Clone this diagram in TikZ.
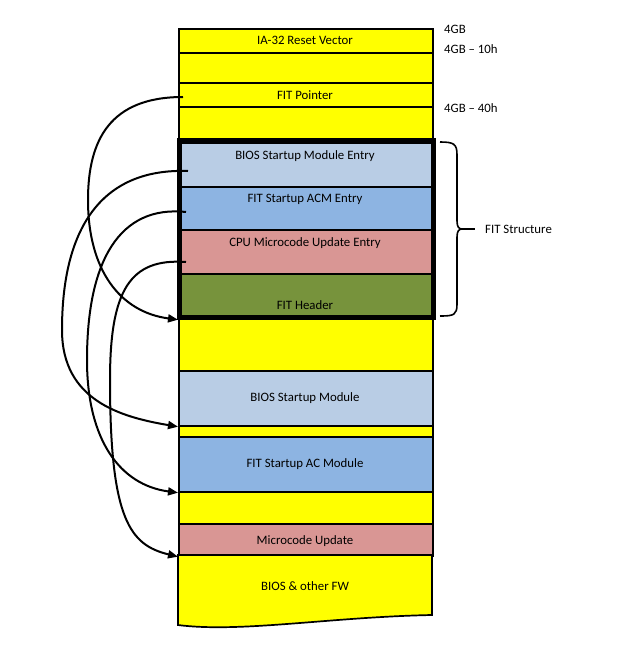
\documentclass[tikz,border=0pt]{standalone}
\usepackage{fontspec}
\setmainfont{Carlito}
\usetikzlibrary{arrows.meta}
\definecolor{cyel}{HTML}{FFFF00}
\definecolor{cltblue}{HTML}{B9CDE5}
\definecolor{cmidblue}{HTML}{8DB4E2}
\definecolor{cpink}{HTML}{D99694}
\definecolor{colive}{HTML}{77933C}
\begin{document}
\begin{tikzpicture}[x=1pt,y=-1pt,
  font=\fontsize{12.8}{14}\selectfont,
  row/.style={draw, line width=1.7pt, minimum width=254pt, inner sep=0pt, anchor=north west},
  txt/.style={inner sep=0pt},
  rlab/.style={inner sep=0pt, anchor=west},
  conn/.style={line width=2pt, -{Triangle[length=10pt,width=8pt]}}]
\useasboundingbox (0,0) rectangle (628,658);
% memory map rows
\node[row, fill=cyel, minimum height=24pt] (reset) at (178,28) {};
\node[row, fill=cyel, minimum height=30pt] (g1) at (178,52) {};
\node[row, fill=cyel, minimum height=24pt] (fitptr) at (178,82) {};
\node[row, fill=cyel, minimum height=36pt] (g2) at (178,106) {};
\node[row, fill=cltblue, minimum height=44pt] (bsme) at (178,142) {};
\node[row, fill=cmidblue, minimum height=43pt] (acme) at (178,186) {};
\node[row, fill=cpink, minimum height=44pt] (cpue) at (178,229) {};
\node[row, fill=colive, minimum height=45pt] (fithdr) at (178,273) {};
\node[row, fill=cyel, minimum height=52pt] (g3) at (178,318) {};
\node[row, fill=cltblue, minimum height=55pt] (bsm) at (178,370) {};
\node[row, fill=cyel, minimum height=11pt] (g4) at (178,425) {};
\node[row, fill=cmidblue, minimum height=55pt] (acm) at (178,436) {};
\node[row, fill=cyel, minimum height=32pt] (g5) at (178,491) {};
\node[row, fill=cpink, minimum height=32pt] (mcu) at (178,523) {};
\draw[line width=1.7pt, fill=cyel] (178,555) -- (432,555) -- (432,615)
  .. controls (330,617) and (240,633) .. (178,625) -- cycle;
% texts
\node[txt] (treset) at (305,40) {IA-32 Reset Vector};
\node[txt] (tfitptr) at (305,95) {FIT Pointer};
\node[txt] (tbsme) at (305,156) {BIOS Startup Module Entry};
\node[txt] (tacme) at (305,199) {FIT Startup ACM Entry};
\node[txt] (tcpue) at (305,243) {CPU Microcode Update Entry};
\node[txt] (tfithdr) at (305,305) {FIT Header};
\node[txt] (tbsm) at (305,398) {BIOS Startup Module};
\node[txt] (tacm) at (305,464) {FIT Startup AC Module};
\node[txt] (tmcu) at (305,541) {Microcode Update};
\node[txt] (tbios) at (305,586) {BIOS \& other FW};
% address labels
\node[rlab] (a1) at (444,29) {4GB};
\node[rlab] (a2) at (444,49) {4GB -- 10h};
\node[rlab] (a3) at (444,108) {4GB -- 40h};
% FIT structure frame
\draw[line width=5pt] (179,140) rectangle (433,317);
\draw[line width=1.6pt] (440,142) .. controls (454,142) and (457,144) .. (457,155)
  -- (457,221) .. controls (457,227) and (459,229) .. (462,229)
  .. controls (459,229) and (457,231) .. (457,237)
  -- (457,304) .. controls (457,315) and (454,316) .. (440,316);
\draw[line width=1.6pt] (460,229) -- (475,229);
\node[rlab] (fitstr) at (485,229) {FIT Structure};
% pointer starts
\coordinate (s1) at (183,97);
\coordinate (s2) at (188,171);
\coordinate (s3) at (186,212);
\coordinate (s4) at (186,262);
% connectors
\draw[conn] (s1) .. controls (110,97) and (88,140) .. (88,200)
  .. controls (88,270) and (120,312) .. (fithdr.south west);
\draw[conn] (s2) .. controls (100,168) and (62,230) .. (62,330)
  .. controls (62,400) and (120,417) .. (bsm.south west);
\draw[conn] (s3) .. controls (120,205) and (87,260) .. (87,360)
  .. controls (87,440) and (120,485) .. (acm.south west);
\draw[conn] (s4) .. controls (130,258) and (110,290) .. (110,380)
  .. controls (110,520) and (130,545) .. (mcu.south west);
\end{tikzpicture}
\end{document}
